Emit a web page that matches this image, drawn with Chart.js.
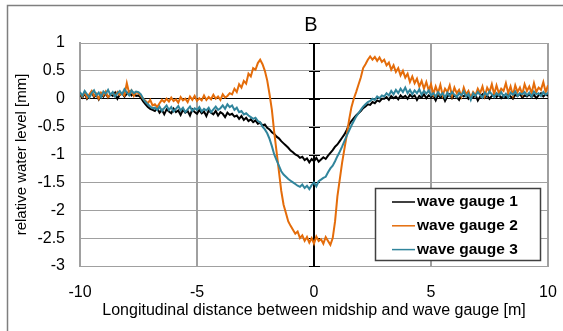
<!DOCTYPE html>
<html>
<head>
<meta charset="utf-8">
<title>B - wave gauges</title>
<script src="https://cdn.jsdelivr.net/npm/chart.js"></script>
<style>
    body { margin: 0; background: #fff; }
    canvas { display: block; }
</style>
</head>
<body>
<canvas id="waveChart" width="563" height="331"></canvas>
<script>
// distance between midship and wave gauge [m]
const distance = [
    -10, -9.9, -9.8, -9.7, -9.6, -9.5, -9.4, -9.3, -9.2, -9.1,
    -9, -8.9, -8.8, -8.7, -8.6, -8.5, -8.4, -8.3, -8.2, -8.1,
    -8, -7.9, -7.8, -7.7, -7.6, -7.5, -7.4, -7.3, -7.2, -7.1,
    -7, -6.9, -6.8, -6.7, -6.6, -6.5, -6.4, -6.3, -6.2, -6.1,
    -6, -5.9, -5.8, -5.7, -5.6, -5.5, -5.4, -5.3, -5.2, -5.1,
    -5, -4.9, -4.8, -4.7, -4.6, -4.5, -4.4, -4.3, -4.2, -4.1,
    -4, -3.9, -3.8, -3.7, -3.6, -3.5, -3.4, -3.3, -3.2, -3.1,
    -3, -2.9, -2.8, -2.7, -2.6, -2.5, -2.4, -2.3, -2.2, -2.1,
    -2, -1.9, -1.8, -1.7, -1.6, -1.5, -1.4, -1.3, -1.2, -1.1,
    -1, -0.9, -0.8, -0.7, -0.6, -0.5, -0.4, -0.3, -0.2, -0.1,
    0, 0.1, 0.2, 0.3, 0.4, 0.5, 0.6, 0.7, 0.8, 0.9,
    1, 1.1, 1.2, 1.3, 1.4, 1.5, 1.6, 1.7, 1.8, 1.9,
    2, 2.1, 2.2, 2.3, 2.4, 2.5, 2.6, 2.7, 2.8, 2.9,
    3, 3.1, 3.2, 3.3, 3.4, 3.5, 3.6, 3.7, 3.8, 3.9,
    4, 4.1, 4.2, 4.3, 4.4, 4.5, 4.6, 4.7, 4.8, 4.9,
    5, 5.1, 5.2, 5.3, 5.4, 5.5, 5.6, 5.7, 5.8, 5.9,
    6, 6.1, 6.2, 6.3, 6.4, 6.5, 6.6, 6.7, 6.8, 6.9,
    7, 7.1, 7.2, 7.3, 7.4, 7.5, 7.6, 7.7, 7.8, 7.9,
    8, 8.1, 8.2, 8.3, 8.4, 8.5, 8.6, 8.7, 8.8, 8.9,
    9, 9.1, 9.2, 9.3, 9.4, 9.5, 9.6, 9.7, 9.8, 9.9,
    10
];

// relative water level [mm]
const gauge1 = [
    0.08, 0.02, 0.1, 0.0, 0.06, 0.12, 0.03, 0.07, -0.01, 0.09,
    0.04, 0.1, 0.02, 0.08, 0.05, 0.11, 0.0, 0.07, 0.1, 0.04,
    0.09, 0.13, 0.06, 0.1, 0.05, 0.06, 0.02, -0.05, -0.1, -0.15,
    -0.18, -0.2, -0.22, -0.17, -0.25, -0.2, -0.28, -0.19, -0.23, -0.26,
    -0.18, -0.24, -0.21, -0.29, -0.2, -0.25, -0.22, -0.3, -0.19, -0.24,
    -0.27, -0.2, -0.26, -0.23, -0.31, -0.21, -0.25, -0.28, -0.22, -0.3,
    -0.24, -0.27, -0.33, -0.25, -0.29, -0.27, -0.32, -0.3, -0.36, -0.31,
    -0.38, -0.34, -0.4, -0.37, -0.42, -0.39, -0.45, -0.43, -0.48, -0.46,
    -0.52, -0.55, -0.6, -0.63, -0.68, -0.71, -0.76, -0.8, -0.84, -0.88,
    -0.93, -0.96, -1.0, -1.02, -1.06, -1.04, -1.1, -1.07, -1.14, -1.08,
    -1.12, -1.06, -1.13, -1.09, -1.05, -1.08, -1.02, -0.97, -0.92, -0.86,
    -0.82, -0.76, -0.7, -0.64, -0.56, -0.46, -0.4, -0.35, -0.3, -0.26,
    -0.22, -0.17, -0.14, -0.1, -0.11, -0.06, -0.08, -0.03, -0.05, 0.0,
    0.0, 0.03, -0.02, 0.05, 0.01, 0.04, -0.01, 0.06, 0.02, 0.05,
    0.0, 0.07, 0.03, 0.06, -0.02, 0.05, 0.02, 0.08, 0.01, 0.06,
    0.03, 0.05, -0.03, 0.07, 0.02, 0.06, -0.04, 0.04, 0.08, 0.01,
    0.06, 0.03, -0.02, 0.07, 0.04, 0.09, 0.0, 0.05, 0.02, 0.07,
    -0.03, 0.04, 0.08, 0.02, 0.06, 0.0, 0.05, 0.09, 0.03, 0.07,
    0.01, 0.06, 0.02, 0.08, 0.04, 0.0, 0.07, 0.05, 0.09, 0.02,
    0.06, 0.04, 0.08, 0.03, 0.07, 0.01, 0.06, 0.1, 0.04, 0.08,
    0.05
];

const gauge2 = [
    0.1, 0.04, 0.12, 0.02, 0.08, 0.14, 0.05, 0.09, 0.0, 0.11,
    0.06, 0.13, 0.03, 0.08, 0.1, 0.05, 0.12, 0.07, 0.1, 0.06,
    0.28, 0.1, 0.15, 0.05, 0.12, 0.1, 0.05, 0.0, -0.04, -0.08,
    -0.02, -0.12, -0.1, -0.15, -0.08, -0.02, -0.06, 0.0, -0.05, 0.02,
    -0.04, -0.01, -0.07, 0.03, -0.03, 0.0, -0.06, 0.04, -0.02, 0.05,
    -0.04, 0.01, -0.03, 0.06, -0.02, 0.03, -0.01, 0.07, 0.0, 0.04,
    -0.02, 0.08, 0.02, 0.05, 0.1, 0.08, 0.18, 0.12, 0.26, 0.2,
    0.32, 0.27, 0.45, 0.4, 0.55, 0.52, 0.64, 0.7, 0.62, 0.5,
    0.33, 0.08, -0.2, -0.6, -0.95, -1.3, -1.65, -1.9, -2.05, -2.2,
    -2.28, -2.35, -2.42, -2.38, -2.5, -2.45, -2.55, -2.48, -2.58, -2.5,
    -2.6, -2.47, -2.55, -2.52, -2.6, -2.48, -2.55, -2.62, -2.5, -2.2,
    -1.75, -1.45, -1.15, -0.9, -0.65, -0.38, -0.15, 0.0, 0.12, 0.25,
    0.38, 0.55, 0.62, 0.7, 0.76, 0.7, 0.75, 0.68, 0.74, 0.66,
    0.7, 0.6, 0.65, 0.52, 0.6, 0.48, 0.55, 0.42, 0.5, 0.38,
    0.45, 0.3, 0.4, 0.28, 0.36, 0.22, 0.32, 0.18, 0.3, 0.15,
    0.26, 0.08, 0.22, 0.1, 0.25, 0.06, 0.18, 0.12, 0.24, 0.05,
    0.2, 0.1, 0.16, 0.04, 0.2, 0.08, 0.14, 0.02, 0.12, 0.06,
    0.18, 0.1, 0.22, 0.05, 0.2, 0.12, 0.26, 0.08, 0.24, 0.1,
    0.18, 0.14, 0.28, 0.1, 0.22, 0.06, 0.24, 0.12, 0.2, 0.08,
    0.26, 0.14, 0.22, 0.1, 0.28, 0.12, 0.2, 0.16, 0.3, 0.12,
    0.24
];

const gauge3 = [
    0.12, 0.05, 0.14, 0.08, 0.02, 0.1, 0.15, 0.06, 0.11, 0.03,
    0.13, 0.09, 0.16, 0.07, 0.12, 0.04, 0.1, 0.14, 0.08, 0.17,
    0.11, 0.06, 0.15, 0.1, 0.13, 0.12, 0.08, 0.0, -0.06, -0.1,
    -0.14, -0.17, -0.16, -0.2, -0.14, -0.22, -0.17, -0.12, -0.2, -0.15,
    -0.23, -0.18, -0.13, -0.21, -0.16, -0.24, -0.19, -0.14, -0.22, -0.17,
    -0.2, -0.15, -0.23, -0.18, -0.21, -0.16, -0.24, -0.19, -0.14, -0.2,
    -0.17, -0.12, -0.18, -0.1, -0.15, -0.12, -0.2, -0.16, -0.24, -0.22,
    -0.28, -0.26, -0.3, -0.33, -0.36, -0.34, -0.4, -0.42, -0.5, -0.55,
    -0.62, -0.72, -0.85, -1.0, -1.1, -1.2, -1.3, -1.36, -1.4, -1.44,
    -1.47, -1.5, -1.53, -1.56, -1.58, -1.54, -1.6, -1.56, -1.62, -1.55,
    -1.5, -1.57, -1.48, -1.45, -1.42, -1.4, -1.32, -1.25, -1.2, -1.12,
    -1.03, -0.95, -0.86, -0.76, -0.66, -0.57, -0.48, -0.4, -0.32, -0.26,
    -0.2, -0.14, -0.1, -0.06, -0.04, 0.0, -0.02, 0.04, 0.01, 0.06,
    0.04, 0.1, 0.06, 0.14, 0.08, 0.16, 0.1, 0.18, 0.12, 0.2,
    0.1, 0.16, 0.08, 0.15, 0.1, 0.17, 0.07, 0.14, 0.09, 0.15,
    0.06, 0.1, 0.04, 0.12, 0.06, 0.1, 0.02, 0.11, 0.05, 0.12,
    0.07, 0.03, 0.1, 0.06, 0.13, 0.04, 0.09, -0.02, 0.1, 0.05,
    0.12, 0.07, 0.02, 0.11, 0.06, 0.13, 0.08, 0.03, 0.1, 0.06,
    0.12, 0.04, 0.09, 0.02, 0.11, 0.07, 0.13, 0.05, 0.1, 0.08,
    0.12, 0.06, 0.11, 0.04, 0.13, 0.08, 0.1, 0.05, 0.12, 0.07,
    0.11
];

const seriesNames = ['wave gauge 1', 'wave gauge 2', 'wave gauge 3'];
const seriesColors = ['#000000', '#E46C0A', '#31859C'];
const seriesValues = [gauge1, gauge2, gauge3];
const chartTitle = 'B';

Chart.defaults.font.family = "'Liberation Sans', Arial, sans-serif";
Chart.defaults.color = '#000';

const GRID = '#a0a0a0';

// outer frame of the excel chart area (only top and left edge are visible) + title over the plot centre
const framePlugin = {
    id: 'frame',
    beforeDraw(chart) {
        const ctx = chart.ctx;
        const area = chart.chartArea;
        ctx.save();
        ctx.fillStyle = '#fff';
        ctx.fillRect(0, 0, chart.width, chart.height);
        ctx.strokeStyle = '#7f7f7f';
        ctx.lineWidth = 1.5;
        ctx.beginPath();
        ctx.moveTo(7.5, chart.height + 2);
        ctx.lineTo(7.5, 5.5);
        ctx.lineTo(chart.width + 2, 5.5);
        ctx.stroke();
        ctx.fillStyle = '#000';
        ctx.font = "20px 'Liberation Sans', Arial, sans-serif";
        ctx.textAlign = 'center';
        ctx.textBaseline = 'middle';
        ctx.fillText(chartTitle, (area.left + area.right) / 2 - 3, 25);
        ctx.restore();
    }
};

// small tick marks on the y axis that crosses at x = 0
const axisTickPlugin = {
    id: 'axisTicks',
    beforeDatasetsDraw(chart) {
        const ctx = chart.ctx;
        const xs = chart.scales.x;
        const ys = chart.scales.y;
        const x0 = Math.round(xs.getPixelForValue(0));
        ctx.save();
        ctx.strokeStyle = '#000';
        ctx.lineWidth = 1;
        ys.ticks.forEach(t => {
            const py = Math.round(ys.getPixelForValue(t.value)) + 0.5;
            ctx.beginPath();
            ctx.moveTo(x0 - 5, py);
            ctx.lineTo(x0 + 6, py);
            ctx.stroke();
        });
        ctx.restore();
    }
};

// boxed legend inside the plot, bottom right
const boxLegendPlugin = {
    id: 'boxLegend',
    afterDraw(chart) {
        const ctx = chart.ctx;
        const area = chart.chartArea;
        const w = 165, h = 72;
        const left = area.right - 8 - w;
        const top = area.bottom - 6 - h;
        ctx.save();
        ctx.fillStyle = '#fff';
        ctx.fillRect(left, top, w, h);
        ctx.strokeStyle = '#404040';
        ctx.lineWidth = 1.5;
        ctx.strokeRect(left + 0.5, top + 0.5, w, h);
        ctx.font = "bold 15.5px 'Liberation Sans', Arial, sans-serif";
        ctx.textBaseline = 'middle';
        chart.data.datasets.forEach((ds, i) => {
            const y = top + 14 + i * 23.8;
            ctx.strokeStyle = ds.borderColor;
            ctx.lineWidth = 1.5;
            ctx.beginPath();
            ctx.moveTo(left + 17, y);
            ctx.lineTo(left + 40, y);
            ctx.stroke();
            ctx.fillStyle = '#000';
            ctx.fillText(ds.label, left + 42, y);
        });
        ctx.restore();
    }
};

const datasets = seriesValues.map((vals, i) => ({
    label: seriesNames[i],
    data: distance.map((x, k) => ({ x: x, y: vals[k] })),
    borderColor: seriesColors[i],
    borderWidth: 2,
    pointRadius: 0,
    tension: 0,
    fill: false,
    order: 3 - i
}));

new Chart(document.getElementById('waveChart'), {
    type: 'line',
    data: { datasets: datasets },
    options: {
        responsive: false,
        animation: false,
        events: [],
        layout: { padding: { left: 0, right: 15, top: 43, bottom: 0 } },
        plugins: {
            legend: { display: false },
            tooltip: { enabled: false },
            title: { display: false }
        },
        scales: {
            x: {
                type: 'linear',
                min: -10,
                max: 10,
                afterFit: s => {
                    s.height = 65;
                    s.paddingLeft = 0;
                    s.paddingRight = 0;
                },
                ticks: { stepSize: 5, padding: 17, font: { size: 16 }, color: '#000', maxRotation: 0 },
                grid: {
                    drawTicks: false,
                    color: c => (c.tick && c.tick.value === 0 ? '#000' : GRID),
                    lineWidth: 2
                },
                border: { color: GRID, width: 1 },
                title: {
                    display: true,
                    text: 'Longitudinal distance between midship and wave gauge [m]',
                    font: { size: 16 },
                    color: '#000',
                    padding: { top: 0, bottom: 11 }
                }
            },
            y: {
                min: -3,
                max: 1,
                afterFit: s => {
                    s.width = 80;
                    s.paddingTop = 0;
                    s.paddingBottom = 0;
                },
                ticks: {
                    stepSize: 0.5,
                    padding: 15,
                    font: { size: 16 },
                    color: '#000',
                    callback: v => String(Math.round(v * 10) / 10)
                },
                grid: {
                    drawTicks: false,
                    color: c => (c.tick && c.tick.value === 0 ? '#000' : GRID),
                    lineWidth: 1
                },
                border: { color: GRID, width: 2 },
                title: {
                    display: true,
                    text: 'relative water level [mm]',
                    font: { size: 15 },
                    color: '#000',
                    padding: { top: 13, bottom: 0 }
                }
            }
        }
    },
    plugins: [framePlugin, axisTickPlugin, boxLegendPlugin]
});
</script>
</body>
</html>
